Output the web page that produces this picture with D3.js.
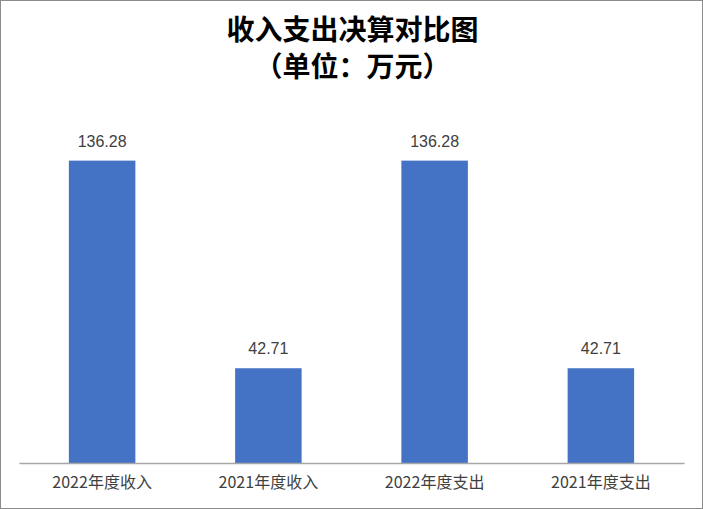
<!DOCTYPE html>
<html><head><meta charset="utf-8">
<script src="https://cdn.jsdelivr.net/npm/d3@7"></script>
<style>body{margin:0;background:#fff}svg{display:block}</style>
</head><body>
<svg id="c" width="703" height="509"></svg>
<script>
const categories = ["2022年度收入","2021年度收入","2022年度支出","2021年度支出"];
const values = [136.28, 42.71, 136.28, 42.71];
const titleLines = ["收入支出决算对比图","（单位：万元）"];

const W=703,H=509;
const svg=d3.select("#c");
svg.append("rect").attr("x",0.5).attr("y",0.5).attr("width",W-1).attr("height",H-1)
  .attr("fill","#fff").attr("stroke","#8c8c8c").attr("stroke-width",1);

const m={left:19,right:19,top:108,bottom:46};
const x=d3.scaleBand().domain(categories).range([m.left,W-m.right]).paddingInner(0.6).paddingOuter(0.3);
const y=d3.scaleLinear().domain([0,160]).range([H-m.bottom,m.top]);

const cjk="'Noto Sans CJK SC','Noto Sans',sans-serif";
svg.selectAll("text.title").data(titleLines).join("text")
  .attr("x",W/2+1).attr("y",(d,i)=>40+i*37).attr("text-anchor","middle")
  .attr("font-family",cjk).attr("font-weight","bold").attr("font-size",28).attr("fill","#000")
  .text(d=>d);

svg.selectAll("rect.bar").data(values).join("rect").attr("class","bar")
  .attr("x",(d,i)=>x(categories[i])).attr("width",x.bandwidth())
  .attr("y",d=>y(d)).attr("height",d=>y(0)-y(d)).attr("fill","#4472C4");

svg.selectAll("text.lbl").data(values).join("text").attr("class","lbl")
  .attr("x",(d,i)=>x(categories[i])+x.bandwidth()/2).attr("y",d=>y(d)-14)
  .attr("text-anchor","middle").attr("font-family","'Liberation Sans Narrow','Liberation Sans',sans-serif")
  .attr("font-size",16).attr("fill","#404040").text(d=>d.toFixed(2));

const ax=svg.append("g").attr("transform",`translate(0,${y(0)})`)
  .call(d3.axisBottom(x).tickSize(0).tickPadding(14));
ax.select(".domain").attr("stroke","#a6a6a6").attr("stroke-width",1.3);
ax.selectAll("text").attr("font-family",cjk).attr("font-size",16).attr("fill","#404040");
</script>
</body></html>
